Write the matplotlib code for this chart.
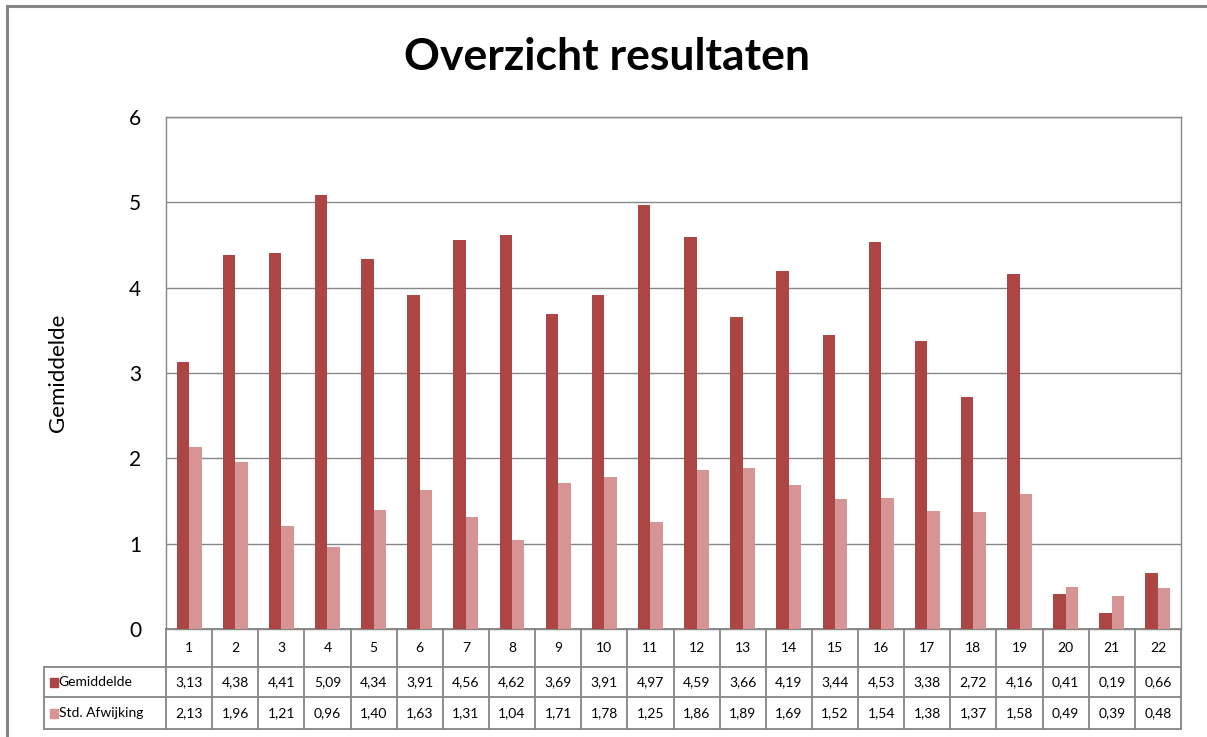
import numpy as np
import matplotlib
matplotlib.use('Agg')
import matplotlib.pyplot as plt
from matplotlib.patches import Rectangle

plt.rcParams['font.family'] = ['Lato', 'DejaVu Sans']

categories = [str(i) for i in range(1, 23)]
gemiddelde = [3.13, 4.38, 4.41, 5.09, 4.34, 3.91, 4.56, 4.62, 3.69, 3.91, 4.97,
              4.59, 3.66, 4.19, 3.44, 4.53, 3.38, 2.72, 4.16, 0.41, 0.19, 0.66]
std_afw = [2.13, 1.96, 1.21, 0.96, 1.40, 1.63, 1.31, 1.04, 1.71, 1.78, 1.25,
           1.86, 1.89, 1.69, 1.52, 1.54, 1.38, 1.37, 1.58, 0.49, 0.39, 0.48]
series_names = ['Gemiddelde', 'Std. Afwijking']
yticks = [0, 1, 2, 3, 4, 5, 6]

col_dark = '#AB4644'
col_light = '#D69594'
grey = '#868686'

W, H = 1207, 737
fig = plt.figure(figsize=(W / 100, H / 100), dpi=100)

# outer chart border (left and top visible)
fig.add_artist(plt.Line2D([7 / W, 7 / W], [0, 1 - 6 / H], color=grey, lw=2.2))
fig.add_artist(plt.Line2D([7 / W, 1], [1 - 6 / H, 1 - 6 / H], color=grey, lw=2.2))

AX_L, AX_R, AX_T, AX_B = 166, 1181, 117, 629
ax = fig.add_axes([AX_L / W, 1 - AX_B / H, (AX_R - AX_L) / W, (AX_B - AX_T) / H])

x = np.arange(len(categories))
bw = 0.27
ax.bar(x - bw / 2, gemiddelde, bw, color=col_dark, zorder=3)
ax.bar(x + bw / 2, std_afw, bw, color=col_light, zorder=3)

ax.set_xlim(-0.5, len(categories) - 0.5)
ax.set_ylim(0, 6)
ax.set_yticks(yticks)
ax.set_yticklabels([str(t) for t in yticks], fontsize=15)
ax.tick_params(axis='y', length=0, pad=18)
ax.set_xticks([])
ax.grid(axis='y', color=grey, lw=1, zorder=0)
for s in ax.spines.values():
    s.set_color(grey)
    s.set_linewidth(1)

ax.set_ylabel('Gemiddelde', fontsize=16, labelpad=44)
fig.text(0.5 * (407 + 808) / W, 1 - 57 / H, 'Overzicht resultaten',
         ha='center', va='center', fontsize=32, fontweight='bold')

# data table below the axis (drawn by hand)
ph = AX_B - AX_T
tr = ax.get_xaxis_transform()
row_edges = [0, -38 / ph, -68 / ph, -100 / ph]  # header, row 1, row 2 (axes y)
x_lab = -0.5 - (AX_L - 44) / ((AX_R - AX_L) / len(categories))  # left of label column
n = len(categories)
lkw = dict(color=grey, lw=1.3, transform=tr, clip_on=False)
# horizontal lines
ax.plot([-0.5, n - 0.5], [row_edges[0]] * 2, **lkw)
for yy in row_edges[1:]:
    ax.plot([x_lab, n - 0.5], [yy] * 2, **lkw)
# vertical lines
for i in range(n + 1):
    ax.plot([i - 0.5, i - 0.5], [row_edges[0], row_edges[3]], **lkw)
ax.plot([x_lab, x_lab], [row_edges[1], row_edges[3]], **lkw)

fmt = lambda v: ('%.2f' % v).replace('.', ',')
for i, c in enumerate(categories):
    ym = 0.5 * (row_edges[0] + row_edges[1])
    ax.text(i, ym, c, transform=tr, ha='center', va='center', fontsize=10)
for r, (vals, name, colr) in enumerate(zip([gemiddelde, std_afw], series_names,
                                            [col_dark, col_light])):
    ym = 0.5 * (row_edges[r + 1] + row_edges[r + 2])
    for i, v in enumerate(vals):
        ax.text(i, ym, fmt(v), transform=tr, ha='center', va='center', fontsize=10)
    ax.text(x_lab + 0.32, ym, name, transform=tr, ha='left', va='center', fontsize=10)
    ax.add_patch(Rectangle((x_lab + 0.12, ym - 4.5 / ph), 0.18, 9 / ph,
                           transform=tr, color=colr, clip_on=False))

fig.savefig('out.png', dpi=100)
